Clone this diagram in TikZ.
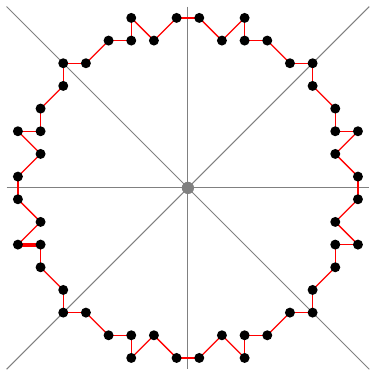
\documentclass[tikz,border=0pt]{standalone}
\usepackage{tikz}
\usetikzlibrary{positioning}

\begin{document}
\begin{tikzpicture}[
      x=0.5cm, y=0.5cm,
      axis/.style={draw=gray, line width=0.6pt},
      dot/.style={circle, fill=black, inner sep=0pt, minimum size=0.22cm},
      centre/.style={circle, fill=gray, inner sep=0pt, minimum size=0.27cm},
      edge/.style={draw=red, line width=0.8pt},
      thickedge/.style={draw=red, line width=2.5pt}
    ]
    \useasboundingbox (-8.29,-8.12) rectangle (8.07,8.29);

    % Axes
    \coordinate (w) at (-8,0);
    \coordinate (e) at (8,0);
    \coordinate (n) at (0,8);
    \coordinate (s) at (0,-8);
    \coordinate (nw) at (-8,8);
    \coordinate (se) at (8,-8);
    \coordinate (ne) at (8,8);
    \coordinate (sw) at (-8,-8);
    \draw[axis] (w) -- (e);
    \draw[axis] (n) -- (s);
    \draw[axis] (nw) -- (se);
    \draw[axis] (sw) -- (ne);
    \node[centre] (origin) at (0,0) {};

    % Lattice points of the closed walk
    \foreach \c/\r [count=\i] in {7/0, 6/1, 5/0, 5/1, 4/1, 3/2, 2/2, 2/3, 1/4, 1/5,
        0/5, 1/6, 0/7, 0/8, 1/9, 0/10, 1/10, 1/11, 2/12, 2/13,
        3/13, 4/14, 5/14, 5/15, 6/14, 7/15, 8/15, 9/14, 10/15, 10/14,
        11/14, 12/13, 13/13, 13/12, 14/11, 14/10, 15/10, 14/9, 15/8, 15/7,
        14/6, 15/5, 14/5, 14/4, 13/3, 13/2, 12/2, 11/1, 10/1, 10/0,
        9/1, 8/0}
      \coordinate (q\i) at ({\c-7.5},{7.5-\r});

    % Walk
    \foreach \i [evaluate=\i as \j using {int(mod(\i,52)+1)}] in {1,...,52}
      \draw[edge] (q\i) -- (q\j);
    \draw[thickedge] (q16) -- (q17);

    % Dots
    \foreach \i in {1,...,52}
      \node[dot] (p\i) at (q\i) {};

\end{tikzpicture}
\end{document}
